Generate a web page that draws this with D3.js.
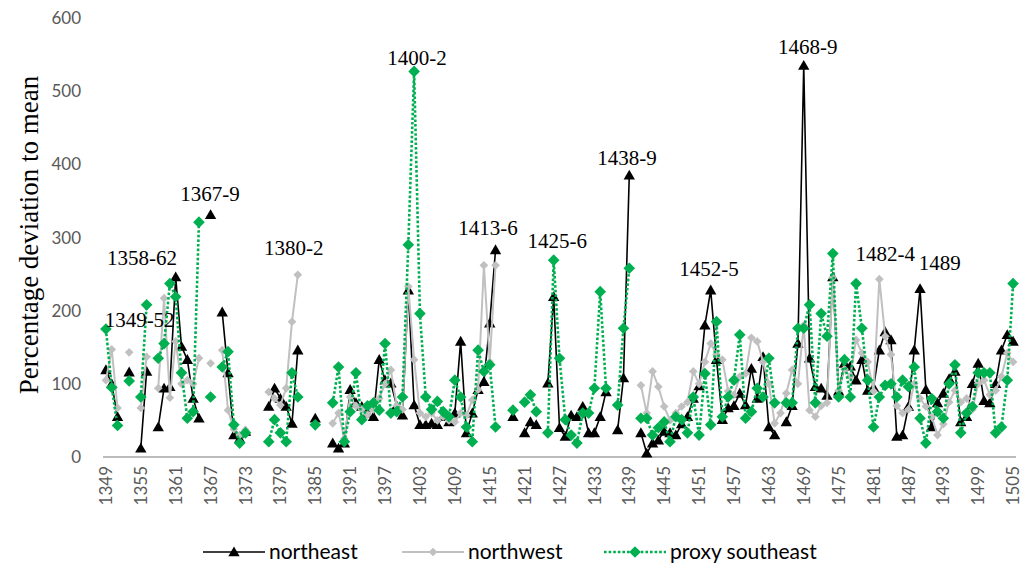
<!DOCTYPE html>
<html>
<head>
<meta charset="utf-8">
<script src="https://cdn.jsdelivr.net/npm/d3@7"></script>
<style>
  html, body { margin: 0; padding: 0; background: #fff; }
  svg { display: block; }
</style>
</head>
<body>
<svg id="chart" width="1025" height="570"></svg>
<script>
// ---------------- DATA ----------------
const firstYear = 1349;
const lastYear = 1505;
const years = d3.range(firstYear, lastYear + 1);
const tickYears = d3.range(1349, 1506, 6);
const yTicks = [0, 100, 200, 300, 400, 500, 600];

const N = null;
// northeast (black, triangles) 1349..1505
const northeast = [
 119,100,55,N,116,N,12,117,N,41, 94,96,246,151,133,80,53,N,331,N,  // 1349-1368
 198,115,30,25,35,N,N,N,69,94, 80,69,46,146,N,N,53,N,N,19,          // 1369-1388
 12,19,92,74,69,60,55,133,105,101, 70,57,228,71,44,44,46,44,55,48,  // 1389-1408
 60,158,33,60,92,103,183,283,N,N, 55,N,33,48,44,N,101,219,40,28,     // 1409-1428
 57,55,69,33,33,55,89,N,37,108, 385,N,33,5,19,23,35,33,30,45,       // 1429-1448
 55,80,97,180,228,133,51,67,70,87, 71,121,80,137,41,30,N,48,70,155, // 1449-1468
 535,135,96,94,84,246,90,128,124,105, 133,91,95,146,171,160,28,30,69,146, // 1469-1488
 230,92,41,74,87,107,117,48,55,100, 128,77,74,100,146,167,158        // 1489-1505
];
// northwest (grey, small diamonds)
const northwest = [
 105,147,67,N,143,N,67,137,N,94, 217,81,158,100,105,100,135,N,128,N, // 1349-1368
 146,64,38,30,37,N,N,N,89,80, 71,94,185,249,N,N,N,N,N,46,           // 1369-1388
 60,25,82,70,65,58,65,80,100,119, 70,65,233,133,60,55,60,50,55,50,  // 1389-1408
 48,60,57,78,92,262,130,262,N,N, N,N,N,N,N,N,N,N,N,N,               // 1409-1428
 N,N,N,N,N,N,N,N,N,N, N,N,98,60,117,96,69,50,60,69,                 // 1429-1448
 75,117,100,130,155,140,133,90,85,110, 114,163,158,130,100,46,60,87,119,100, // 1449-1468
 180,64,55,70,74,245,91,120,110,160, 142,130,90,243,165,140,70,60,65,100,   // 1469-1488
 80,69,55,30,45,75,91,75,80,65, 100,105,85,91,110,142,130            // 1489-1505
];
// proxy southeast (green dotted, diamonds)
const proxySoutheast = [
 175,95,43,N,104,N,82,208,N,135, 155,237,219,115,53,62,321,N,82,N,  // 1349-1368
 123,144,44,19,33,N,N,N,21,51, 33,21,115,82,N,N,44,N,N,74,          // 1369-1388
 123,21,62,115,51,70,74,64,155,60, 62,82,290,527,196,82,65,76,62,55, // 1389-1408
 105,82,41,21,146,117,126,41,N,N, 64,N,75,85,62,N,33,269,135,51,     // 1409-1428
 30,19,60,60,94,226,94,N,71,176, 258,N,53,53,30,40,48,21,55,51,      // 1429-1448
 33,82,30,114,44,185,55,82,105,167, 53,62,94,82,135,74,N,74,74,176,  // 1449-1468
 176,208,74,196,165,278,82,133,82,237, 176,105,41,82,98,100,82,105,96,123, // 1469-1488
 53,19,80,62,53,100,126,33,60,69, 115,115,115,33,41,105,237           // 1489-1505
];

const seriesNames = ["northeast", "northwest", "proxy southeast"];

// annotation labels: [text, year position, value position]
const annoLabels = ["1349-52","1358-62","1367-9","1380-2","1400-2","1413-6","1425-6","1438-9","1452-5","1468-9","1482-4","1489"];
const annoYears  = [1354.8, 1355.2, 1366.9, 1381.3, 1402.5, 1414.7, 1426.6, 1438.6, 1452.7, 1469.7, 1483.0, 1492.4];
const annoValues = [177, 263, 350, 276, 536, 304, 285, 399, 248, 551, 268, 255];

// ---------------- CHART ----------------
const svg = d3.select("#chart");
const x = d3.scaleLinear().domain([firstYear - 0.5, lastYear + 0.5]).range([103, 1016]);
const y = d3.scaleLinear().domain([0, 600]).range([457, 18]);

const styles = [
  {data: northeast, color: "#000000", width: 1.6, dash: null, marker: "tri"},
  {data: northwest, color: "#c0c0c0", width: 2, dash: null, marker: "dia-s"},
  {data: proxySoutheast, color: "#00b050", width: 2.6, dash: "2.6,2", marker: "dia"}
];

const triPath = d3.symbol().type(d3.symbolTriangle).size(56)();
const diaPath = d3.symbol().type(d3.symbolSquare).size(68)();
const diaSPath = d3.symbol().type(d3.symbolSquare).size(38)();

function markerPath(m) { return m === "tri" ? triPath : (m === "dia" ? diaPath : diaSPath); }
function markerRot(m) { return m === "tri" ? "" : " rotate(45)"; }

// axis line
svg.append("line")
  .attr("x1", x(firstYear - 0.5)).attr("x2", x(lastYear + 0.5))
  .attr("y1", y(0)).attr("y2", y(0))
  .attr("stroke", "#a6a6a6").attr("stroke-width", 1.5);

// y ticks labels
svg.append("g").selectAll("text").data(yTicks).join("text")
  .attr("x", 81).attr("y", d => y(d)).attr("dy", "0.36em")
  .attr("text-anchor", "end")
  .attr("font-family", "Lato, 'Open Sans', sans-serif")
  .attr("font-size", 17).attr("fill", "#595959")
  .text(d => d);

// x tick labels
svg.append("g").selectAll("text").data(tickYears).join("text")
  .attr("transform", d => `translate(${x(d)},466) rotate(-90)`)
  .attr("dy", "0.36em")
  .attr("text-anchor", "end")
  .attr("font-family", "Lato, 'Open Sans', sans-serif")
  .attr("font-size", 17).attr("fill", "#595959")
  .text(d => d);

// y axis title
svg.append("text")
  .attr("transform", `translate(38,235) rotate(-90)`)
  .attr("text-anchor", "middle")
  .attr("font-family", "'Liberation Serif', 'DejaVu Serif', serif")
  .attr("font-size", 27).attr("fill", "#000")
  .text("Percentage deviation to mean");

// series
styles.forEach(s => {
  const pts = years.map((yr, i) => ({yr, v: s.data[i]}));
  const line = d3.line().defined(d => d.v != null).x(d => x(d.yr)).y(d => y(d.v));
  svg.append("path").datum(pts)
    .attr("d", line).attr("fill", "none")
    .attr("stroke", s.color).attr("stroke-width", s.width)
    .attr("stroke-dasharray", s.dash)
    .attr("stroke-linejoin", "round");
  svg.append("g").selectAll("path").data(pts.filter(d => d.v != null)).join("path")
    .attr("d", markerPath(s.marker))
    .attr("transform", d => `translate(${x(d.yr)},${y(d.v) + (s.marker === "tri" ? 1 : 0)})${markerRot(s.marker)}`)
    .attr("fill", s.color);
});

// annotations
svg.append("g").selectAll("text").data(annoLabels).join("text")
  .attr("x", (d, i) => x(annoYears[i]))
  .attr("y", (d, i) => y(annoValues[i]))
  .attr("text-anchor", "middle")
  .attr("font-family", "'Liberation Serif', 'DejaVu Serif', serif")
  .attr("font-size", 21).attr("fill", "#000")
  .text(d => d);

// legend
const legendX = [203, 402, 604];
const legend = svg.append("g");
styles.forEach((s, i) => {
  const g = legend.append("g").attr("transform", `translate(${legendX[i]},552)`);
  g.append("line").attr("x1", 0).attr("x2", 62).attr("y1", 0).attr("y2", 0)
    .attr("stroke", s.color).attr("stroke-width", s.width).attr("stroke-dasharray", s.dash);
  g.append("path").attr("d", markerPath(s.marker))
    .attr("transform", `translate(31,${s.marker === "tri" ? 1 : 0})${markerRot(s.marker)}`)
    .attr("fill", s.color);
  g.append("text").attr("x", 66).attr("y", 0).attr("dy", "0.35em")
    .attr("font-family", "Lato, 'Open Sans', sans-serif")
    .attr("font-size", 21).attr("fill", "#000")
    .text(seriesNames[i]);
});
</script>
</body>
</html>
